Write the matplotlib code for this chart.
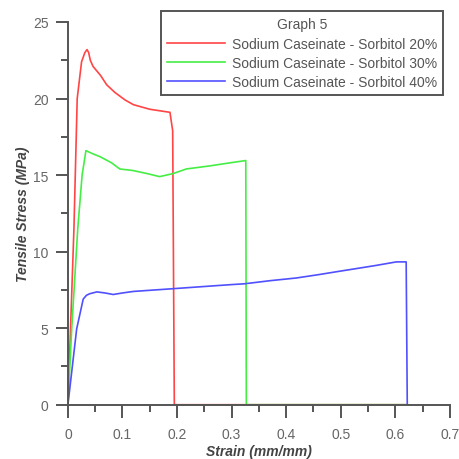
import numpy as np
import matplotlib
matplotlib.use("Agg")
import matplotlib.pyplot as plt
from matplotlib.ticker import MultipleLocator

plt.rcParams['font.family'] = ['Liberation Sans', 'DejaVu Sans']

# Sorbitol 20%
strain_20 = [0, 0.011, 0.017, 0.025, 0.031, 0.035, 0.038, 0.041, 0.046, 0.060, 0.071, 0.086,
             0.105, 0.120, 0.150, 0.187, 0.192, 0.195, 0.622]
stress_20 = [0, 11.5, 20.0, 22.4, 23.0, 23.2, 23.0, 22.5, 22.1, 21.5, 20.9, 20.4,
             19.9, 19.6, 19.3, 19.1, 17.9, 0, 0]

# Sorbitol 30%
strain_30 = [0, 0.007, 0.018, 0.026, 0.033, 0.045, 0.059, 0.080, 0.095, 0.119, 0.145,
             0.168, 0.193, 0.217, 0.260, 0.297, 0.326, 0.327, 0.622]
stress_30 = [0, 5.0, 11.5, 15.0, 16.6, 16.4, 16.2, 15.8, 15.4, 15.3, 15.1,
             14.9, 15.1, 15.4, 15.6, 15.8, 15.95, 0, 0]

# Sorbitol 40%
strain_40 = [0, 0.016, 0.028, 0.034, 0.040, 0.053, 0.068, 0.083, 0.100, 0.120, 0.193,
             0.297, 0.324, 0.370, 0.419, 0.460, 0.498, 0.530, 0.565, 0.602, 0.620, 0.622]
stress_40 = [0, 4.95, 6.9, 7.15, 7.25, 7.37, 7.3, 7.2, 7.3, 7.4, 7.58,
             7.84, 7.9, 8.1, 8.28, 8.5, 8.72, 8.9, 9.1, 9.33, 9.33, 0]

labels = ["Sodium Caseinate - Sorbitol 20%",
          "Sodium Caseinate - Sorbitol 30%",
          "Sodium Caseinate - Sorbitol 40%"]
colors = ["#ff4545", "#45ee45", "#5050ff"]

fig = plt.figure(figsize=(4.59, 4.60), dpi=100)
ax = fig.add_axes([0.148, 0.118, 0.832, 0.832])

series = [(strain_20, stress_20), (strain_30, stress_30), (strain_40, stress_40)]
for (x, y), lab, c in zip(series, labels, colors):
    ax.plot(x, y, color=c, lw=1.2, label=lab)

ax.set_xlim(0, 0.7)
ax.set_ylim(0, 25)
ax.set_xticks(np.arange(0, 0.71, 0.1))
ax.set_xticklabels(["0", "0.1", "0.2", "0.3", "0.4", "0.5", "0.6", "0.7"])
ax.xaxis.set_minor_locator(MultipleLocator(0.05))
ax.yaxis.set_major_locator(MultipleLocator(5))
ax.yaxis.set_minor_locator(MultipleLocator(2.5))

for s in ["top", "right"]:
    ax.spines[s].set_visible(False)
for s in ["left", "bottom"]:
    ax.spines[s].set_color("#555555")
    ax.spines[s].set_linewidth(1.4)
ax.tick_params(which="major", direction="out", length=9, width=1.4, color="#555555",
               labelcolor="#666666", labelsize=10, pad=5)
ax.tick_params(which="major", axis="x", pad=7)
ax.tick_params(which="minor", direction="out", length=5, width=1.4, color="#555555")

ax.set_xlabel("Strain (mm/mm)", fontsize=10, fontweight="bold", style="italic",
              color="#444444", labelpad=2)
ax.set_ylabel("Tensile Stress (MPa)", fontsize=10, fontweight="bold", style="italic",
              color="#444444", labelpad=2)

leg = ax.legend(title="Graph 5", loc="upper right", bbox_to_anchor=(443 / 459, 1 - 12 / 460),
                bbox_transform=fig.transFigure, fontsize=10, title_fontsize=10,
                fancybox=False, framealpha=1, edgecolor="#555555", handlelength=4.2,
                handletextpad=0.45, borderpad=0.45, labelspacing=0.38, borderaxespad=0)
leg.get_frame().set_linewidth(1.4)
for t in leg.get_texts():
    t.set_color("#555555")
leg.get_title().set_color("#555555")

fig.savefig("out.png", dpi=100)
